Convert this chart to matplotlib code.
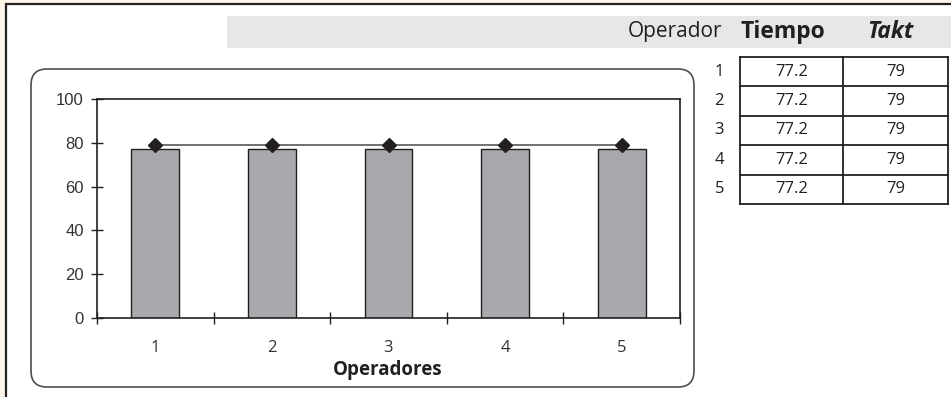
import numpy as np
import matplotlib
matplotlib.use("Agg")
import matplotlib.pyplot as plt
from matplotlib.patches import FancyBboxPatch, Rectangle
from matplotlib.lines import Line2D
from matplotlib.transforms import IdentityTransform

#### data
operadores = ['1', '2', '3', '4', '5']
tiempo = [77.2, 77.2, 77.2, 77.2, 77.2]
takt = [79, 79, 79, 79, 79]
yticks = [0, 20, 40, 60, 80, 100]

W, H = 951, 397
INK = '#231F20'
plt.rcParams['font.family'] = ['Open Sans', 'DejaVu Sans']

fig = plt.figure(figsize=(W / 100, H / 100), dpi=100)
fig.patch.set_facecolor('#FDF6E8')


def fx(px):
    return px / W


def fy(py):
    return 1 - py / H


#### page frame
fig.patches.append(Rectangle((fx(6), fy(H + 10)), fx(W + 10), fy(4) - fy(H + 10),
                             transform=fig.transFigure, facecolor='white',
                             edgecolor=INK, lw=1.6, zorder=0))
# grey header band
fig.patches.append(Rectangle((fx(227), fy(48)), fx(W - 227 + 5), fy(16) - fy(48),
                             transform=fig.transFigure, facecolor='#E6E7E8',
                             edgecolor='none', zorder=1))
# rounded chart box (display pixels)
fig.patches.append(FancyBboxPatch((31 + 16, H - 387 + 16), 694 - 31 - 32, 387 - 69 - 32,
                                  boxstyle='round,pad=16', transform=IdentityTransform(),
                                  facecolor='white', edgecolor='#4D4D4F', lw=1.2, zorder=1))

#### header
fig.text(fx(722), fy(32), 'Operador', ha='right', va='center', fontsize=15,
         fontweight='normal', color=INK)
fig.text(fx(783), fy(32), 'Tiempo', ha='center', va='center', fontsize=16.5,
         fontweight='bold', color=INK)
fig.text(fx(890), fy(32), 'Takt', ha='center', va='center', fontsize=16.5,
         fontweight='bold', fontstyle='italic', color=INK)

#### table
tx0, tx1, tx2 = 740, 843, 948
ty0, row_h = 57, 29.4
n = len(operadores)
for i in range(n + 1):
    y = fy(ty0 + i * row_h)
    fig.lines.append(Line2D([fx(tx0), fx(tx2)], [y, y], transform=fig.transFigure,
                            color=INK, lw=1.3))
for x in (tx0, tx1, tx2):
    fig.lines.append(Line2D([fx(x), fx(x)], [fy(ty0), fy(ty0 + n * row_h)],
                            transform=fig.transFigure, color=INK, lw=1.3))
for i, (op, t, k) in enumerate(zip(operadores, tiempo, takt)):
    yc = fy(ty0 + (i + 0.5) * row_h)
    fig.text(fx(724), yc, op, ha='right', va='center', fontsize=12, color=INK)
    fig.text(fx((tx0 + tx1) / 2), yc, f'{t:g}', ha='center', va='center', fontsize=12, color=INK)
    fig.text(fx((tx1 + tx2) / 2), yc, f'{k:g}', ha='center', va='center', fontsize=12, color=INK)

#### chart
ax = fig.add_axes([fx(97), fy(318), fx(680 - 97), fy(99) - fy(318)])
ax.set_zorder(3)
x = np.arange(len(operadores))
ax.bar(x, tiempo, width=0.41, color='#A7A9AC', edgecolor=INK, lw=1, zorder=2)
ax.plot(x, takt, color='#58595B', lw=1.2, marker='D', ms=7,
        markerfacecolor=INK, markeredgecolor=INK, zorder=3)

ax.set_xlim(-0.5, len(operadores) - 0.5)
ax.set_ylim(0, 100)
ax.set_yticks(yticks)
ax.set_xticks(np.arange(len(operadores) + 1) - 0.5)
ax.set_xticklabels([])
ax.set_xticks(x, minor=True)
ax.set_xticklabels(operadores, minor=True)
ax.tick_params(axis='both', which='major', direction='inout', length=9, width=1,
               color=INK, labelsize=12, labelcolor='#333333')
ax.tick_params(axis='y', pad=5)
ax.tick_params(axis='x', which='minor', length=0, pad=16, labelsize=12, labelcolor='#333333')
for lab in ax.get_yticklabels():
    lab.set_family(['Liberation Sans', 'DejaVu Sans'])
for s in ax.spines.values():
    s.set_color(INK)
    s.set_linewidth(1.2)

fig.text(fx(388), fy(370), 'Operadores', ha='center', va='center', fontsize=13.5,
         fontweight='bold', color=INK)

fig.savefig('out.png', dpi=100, facecolor=fig.get_facecolor())
